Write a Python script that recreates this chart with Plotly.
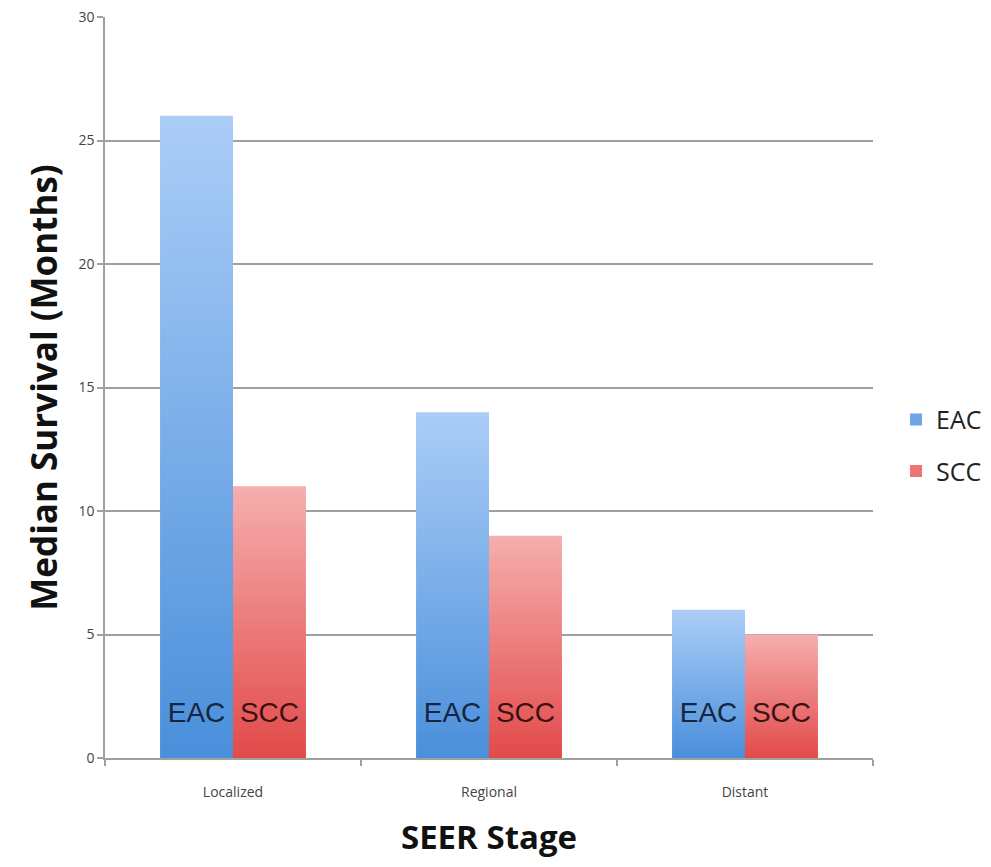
import plotly.graph_objects as go

# Median survival by SEER stage for two histologies
stages = ["Localized", "Regional", "Distant"]
eac_months = [26, 14, 6]
scc_months = [11, 9, 5]
series_names = ["EAC", "SCC"]
y_ticks = [0, 5, 10, 15, 20, 25, 30]

BAR_W = 0.285          # width of one bar in category units
LABEL_Y = 1.74         # height of the in-bar series labels
FONT_TITLE = "Open Sans"
FONT_BAR = "Liberation Sans"

styles = {
    "EAC": dict(dark="#4a8fdb", light="#abcdf7", text="#17253f", legend="#6fa6e6", side=-1),
    "SCC": dict(dark="#e24a4a", light="#f6aeae", text="#3b1212", legend="#ee7373", side=1),
}

fig = go.Figure()

for name, values in zip(series_names, [eac_months, scc_months]):
    st = styles[name]
    for i, v in enumerate(values):
        x0 = i if st["side"] > 0 else i - BAR_W
        x1 = x0 + BAR_W
        fig.add_trace(go.Scatter(
            x=[x0, x1, x1, x0, x0],
            y=[0, 0, v, v, 0],
            mode="lines",
            line=dict(width=0),
            fill="toself",
            fillgradient=dict(
                type="vertical",
                colorscale=[[0, st["dark"]], [1, st["light"]]],
                start=0,
                stop=v,
            ),
            showlegend=False,
            hoverinfo="skip",
        ))
    # series name written near the base of each bar
    fig.add_trace(go.Scatter(
        x=[i + st["side"] * BAR_W / 2 for i in range(len(values))],
        y=[LABEL_Y] * len(values),
        mode="text",
        text=[name] * len(values),
        textfont=dict(family=FONT_BAR, size=28, color=st["text"]),
        showlegend=False,
        hoverinfo="skip",
    ))
    # legend entry
    fig.add_trace(go.Scatter(
        x=[None], y=[None],
        mode="markers",
        marker=dict(symbol="square", size=16, color=st["legend"]),
        name=name,
        legendgroup=name,
    ))

fig.update_layout(
    width=991,
    height=867,
    margin=dict(l=105, r=118, t=17, b=109, autoexpand=False),
    plot_bgcolor="white",
    paper_bgcolor="white",
    showlegend=True,
    legend=dict(
        x=1.03, y=0.422, xanchor="left", yanchor="middle",
        font=dict(family=FONT_TITLE, size=25, color="#222"),
        tracegroupgap=16,
        itemsizing="constant",
    ),
    xaxis=dict(
        range=[-0.5, 2.5],
        tickvals=[0, 1, 2],
        ticktext=stages,
        ticks="",
        showgrid=False,
        zeroline=False,
        showline=True,
        linecolor="#a0a0a0",
        linewidth=1.5,
        tickfont=dict(family=FONT_TITLE, size=14, color="#444"),
        ticklabelstandoff=20,
        minor=dict(tick0=-0.5, dtick=1, ticks="outside", ticklen=6,
                   tickcolor="#a0a0a0", tickwidth=1.5, showgrid=False),
        title=dict(text="<b>SEER Stage</b>",
                   font=dict(family=FONT_TITLE, size=33, color="#111"),
                   standoff=26),
        fixedrange=True,
    ),
    yaxis=dict(
        range=[0, 30],
        tickvals=y_ticks,
        ticks="outside",
        ticklen=6,
        tickcolor="#a0a0a0",
        tickwidth=1.5,
        showgrid=True,
        gridcolor="#a0a0a0",
        gridwidth=1.5,
        zeroline=False,
        showline=True,
        linecolor="#a0a0a0",
        linewidth=1.5,
        tickfont=dict(family=FONT_TITLE, size=14, color="#444"),
        title=dict(text="<b>Median Survival (Months)</b>",
                   font=dict(family=FONT_TITLE, size=35, color="#111"),
                   standoff=10),
        fixedrange=True,
    ),
)

fig.write_html("out.html")
